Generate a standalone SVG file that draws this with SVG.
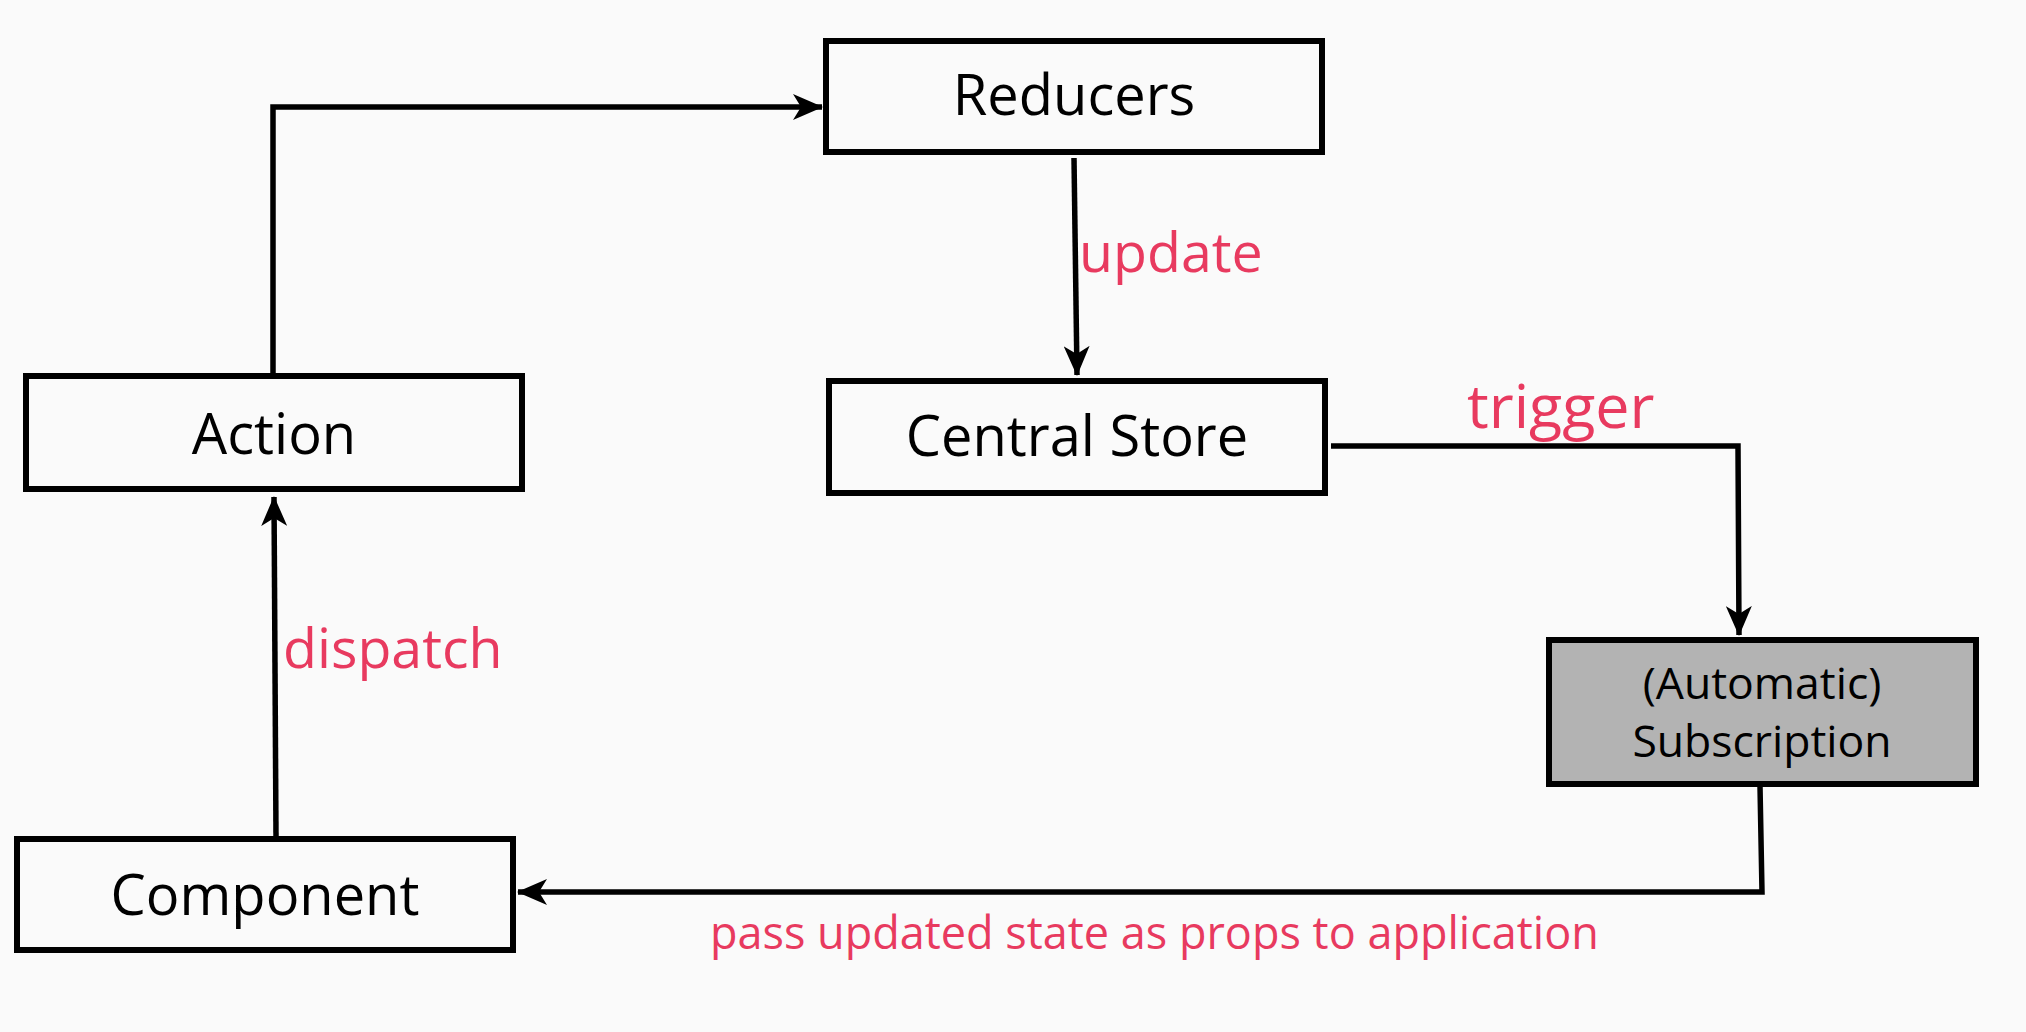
<svg xmlns="http://www.w3.org/2000/svg" width="2026" height="1032" viewBox="0 0 2026 1032">
<style>
.box{fill:#fafafa;stroke:#000;stroke-width:6}
.gray{fill:#b3b3b3}
.lbl{font-family:"Open Sans",Lato,"Liberation Sans",sans-serif;fill:#000;text-anchor:middle}
.edge{font-family:"Open Sans",Lato,"Liberation Sans",sans-serif;fill:#e83a5f}
.ln{fill:none;stroke:#000;stroke-width:5.5}
</style>
<defs>
<marker id="arrow" viewBox="0 0 30 26" refX="29" refY="13" markerWidth="30" markerHeight="26" orient="auto" markerUnits="userSpaceOnUse">
<path d="M0,0 L30,13 L0,26 L8,13 Z" fill="#000"/>
</marker>
</defs>
<rect width="2026" height="1032" fill="#fafafa"/>
<g id="connectors">
<polyline class="ln" points="273,374 273,107 822,107" marker-end="url(#arrow)"/>
<line class="ln" x1="1074" y1="158" x2="1077" y2="375" marker-end="url(#arrow)"/>
<polyline class="ln" points="1331,446 1738,446 1739,635" marker-end="url(#arrow)"/>
<line class="ln" x1="276" y1="837" x2="274" y2="497" marker-end="url(#arrow)"/>
<polyline class="ln" points="1760,786 1762,892 518,892" marker-end="url(#arrow)"/>
<text class="edge" x="1079" y="272" font-size="55.5">update</text>
<text class="edge" x="1467" y="428" font-size="61">trigger</text>
<text class="edge" x="283" y="668" font-size="55.5">dispatch</text>
<text class="edge" x="710" y="949" font-size="45">pass updated state as props to application</text>
</g>
<g id="reducers">
<rect class="box" x="826" y="41" width="496" height="111"/>
<text class="lbl" x="1074" y="115" font-size="56">Reducers</text>
</g>
<g id="central-store">
<rect class="box" x="829" y="381" width="496" height="112"/>
<text class="lbl" x="1077" y="456" font-size="56">Central Store</text>
</g>
<g id="action">
<rect class="box" x="26" y="376" width="496" height="113"/>
<text class="lbl" x="274" y="454" font-size="56">Action</text>
</g>
<g id="component">
<rect class="box" x="17" y="839" width="496" height="111"/>
<text class="lbl" x="265" y="915" font-size="56">Component</text>
</g>
<g id="subscription">
<rect class="box gray" x="1549" y="640" width="427" height="144"/>
<text class="lbl" x="1762" y="699" font-size="44.5">(Automatic)</text>
<text class="lbl" x="1762" y="757" font-size="44.5">Subscription</text>
</g>
</svg>
